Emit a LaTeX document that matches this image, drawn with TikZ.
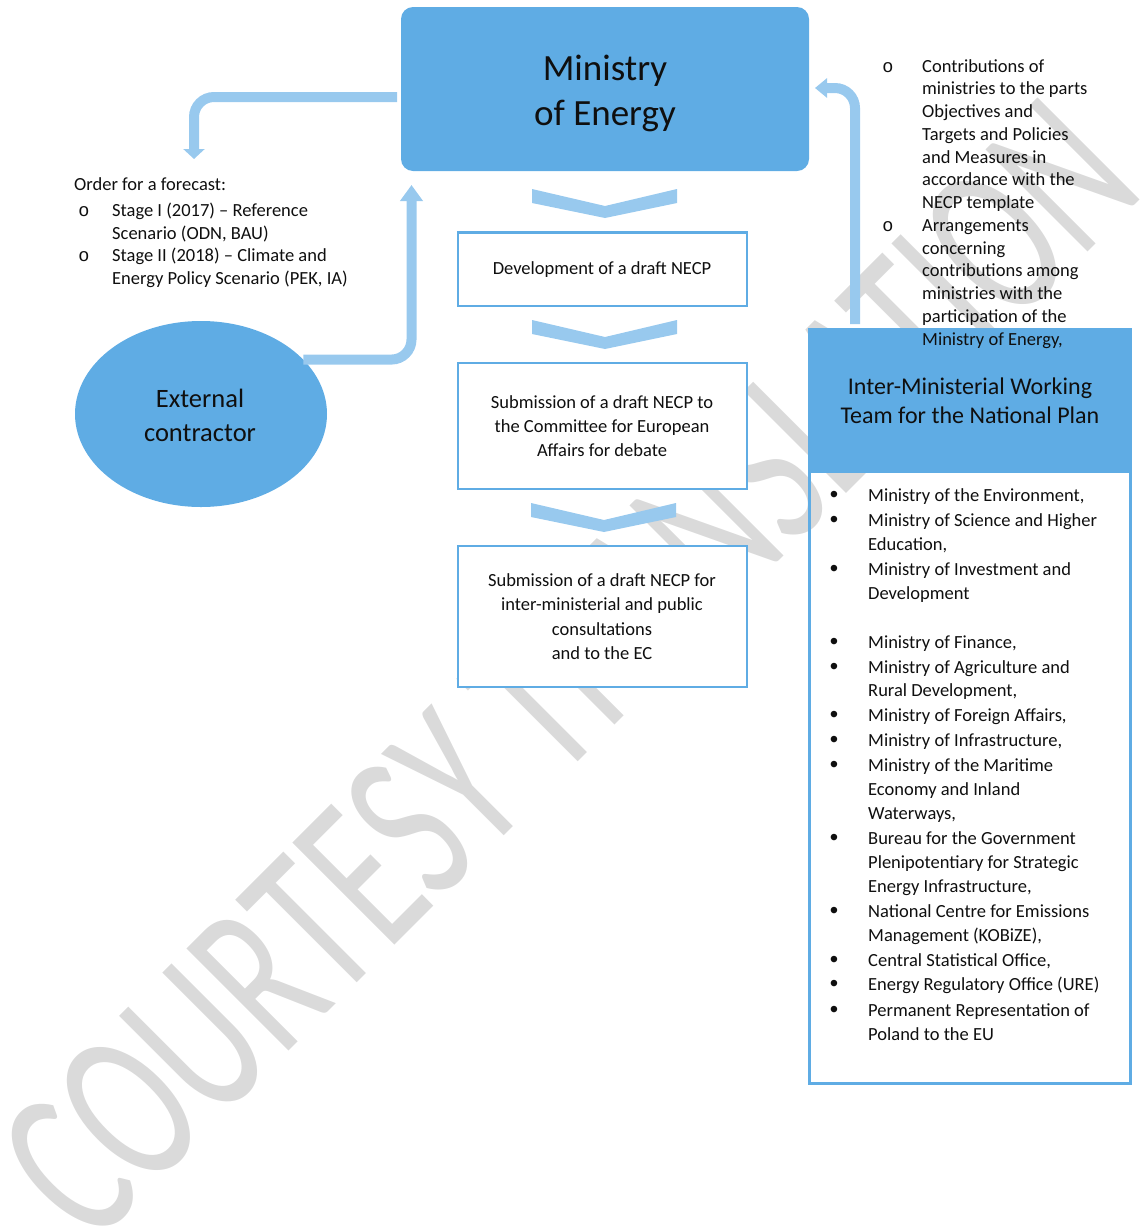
\documentclass[tikz,border=0pt]{standalone}
\usepackage{graphicx}
\usepackage{fontspec}
\setmainfont{Carlito}
\newfontfamily\monof{Liberation Mono}
\newfontfamily\bulf{Liberation Sans}
\usetikzlibrary{shapes.geometric,arrows.meta}
\definecolor{mblue}{RGB}{95,172,228}
\definecolor{lblue}{RGB}{152,201,238}
\definecolor{wmgray}{RGB}{218,218,218}
\definecolor{txtc}{RGB}{15,15,15}
\tikzset{
  txt/.style={anchor=base, inner sep=0pt, text=txtc, font=\fontsize{18.5}{22}\selectfont},
  ltxt/.style={anchor=base west, inner sep=0pt, text=txtc, font=\fontsize{18.5}{22}\selectfont},
  obul/.style={anchor=base, inner sep=0pt, text=txtc, font=\monof\fontsize{18.5}{22}\selectfont},
  dbul/.style={anchor=base, inner sep=0pt, text=txtc, font=\bulf\fontsize{24}{28}\selectfont},
  bigtxt/.style={anchor=base, inner sep=0pt, text=txtc, font=\fontsize{37}{44}\selectfont},
  midtxt/.style={anchor=base, inner sep=0pt, text=txtc, font=\fontsize{26.5}{32}\selectfont},
  hdtxt/.style={anchor=base, inner sep=0pt, text=txtc, font=\fontsize{24}{29}\selectfont},
  flowbox/.style={draw=mblue, line width=2.5pt, fill=white, minimum width=289pt, inner sep=0pt},
  fatarrow/.style={draw=lblue, line width=10pt, rounded corners=20pt},
  chev/.style={fill=lblue, draw=none},
  wm/.style={anchor=base west, rotate=45, inner sep=0pt, text=wmgray, font=\fontsize{225}{225}\selectfont},
}
\begin{document}
\begin{tikzpicture}[x=1pt,y=-1pt]
\useasboundingbox (0,0) rectangle (1145,1229);

% watermark
\begin{scope}
  \clip (0,0) rectangle (1145,1229);
  \node[wm] (wmark) at (91,1249) {\scalebox{0.653}[1]{COURTESY TRANSLATION}};
\end{scope}

% Ministry of Energy
\node[rectangle, rounded corners=12pt, fill=mblue, minimum width=408pt, minimum height=164pt, inner sep=0pt] (min) at (605,89) {};
\node[bigtxt] (minl1) at (605,80) {Ministry};
\node[bigtxt] (minl2) at (605,125) {of Energy};

% chevrons
\fill[chev] (532,189) -- (605,206) -- (677,189) -- (677,203) -- (605,218) -- (532,203) -- cycle;
\fill[chev] (532,320) -- (605,337) -- (677,320) -- (677,334) -- (605,349) -- (532,334) -- cycle;
\fill[chev] (531,503) -- (604,520) -- (676,503) -- (676,517) -- (604,532) -- (531,517) -- cycle;

% flow boxes
\node[flowbox, minimum height=73.5pt] (b1) at (602.5,269) {};
\node[txt] (b1l1) at (602,274) {Development of a draft NECP};

\node[flowbox, minimum height=126pt] (b2) at (602.5,426) {};
\node[txt] (b2l1) at (602,408) {Submission of a draft NECP to};
\node[txt] (b2l2) at (602,432) {the Committee for European};
\node[txt] (b2l3) at (602,456) {Affairs for debate};

\node[flowbox, minimum height=141pt] (b3) at (602.5,616.5) {};
\node[txt] (b3l1) at (602,586) {Submission of a draft NECP for};
\node[txt] (b3l2) at (602,610) {inter-ministerial and public};
\node[txt] (b3l3) at (602,635) {consultations};
\node[txt] (b3l4) at (602,659) {and to the EC};

% External contractor
\node[ellipse, fill=mblue, minimum width=252pt, minimum height=186pt, inner sep=0pt] (ext) at (201,414) {};
\node[midtxt] (extl1) at (200,407) {External};
\node[midtxt] (extl2) at (200,441) {contractor};

% left forecast text
\node[ltxt] (ord) at (74,190) {Order for a forecast:};
\node[obul] (ob1) at (84,216.5) {o};
\node[obul] (ob2) at (84,261.5) {o};
\node[ltxt] (st1) at (112,216.5) {Stage I (2017) – Reference};
\node[ltxt] (st2) at (112,239) {Scenario (ODN, BAU)};
\node[ltxt] (st3) at (112,261.5) {Stage II (2018) – Climate and};
\node[ltxt] (st4) at (112,284) {Energy Policy Scenario (PEK, IA)};

% Inter-ministerial team box
\fill[mblue] (808,328) rectangle (1132,473);
\node[draw=mblue, line width=3pt, minimum width=321pt, minimum height=754pt, inner sep=0pt] (team) at (970,706.5) {};
\node[hdtxt] (hd1) at (970,394) {Inter-Ministerial Working};
\node[hdtxt] (hd2) at (970,423) {Team for the National Plan};

% right-top contributions text
\node[obul] (rb1) at (888,72) {o};
\node[obul] (rb2) at (888,231.25) {o};
\foreach \t [count=\k from 0] in {Contributions of, ministries to the parts, Objectives and, Targets and Policies, and Measures in, accordance with the, NECP template, Arrangements, concerning, contributions among, ministries with the, participation of the, {Ministry of Energy,}}
  \node[ltxt] (rt\k) at (922,{72+22.75*\k}) {\t};

% team list
\foreach \y in {501,526,575,648,673,721,746,771,844,917,966,990,1016}
  \node[dbul] (lb\y) at (834,\y+1) {•};
\foreach \y/\t in {501/{Ministry of the Environment,}, 526/{Ministry of Science and Higher}, 550/{Education,}, 575/{Ministry of Investment and}, 599/{Development}, 648/{Ministry of Finance,}, 673/{Ministry of Agriculture and}, 696/{Rural Development,}, 721/{Ministry of Foreign Affairs,}, 746/{Ministry of Infrastructure,}, 771/{Ministry of the Maritime}, 795/{Economy and Inland}, 819/{Waterways,}, 844/{Bureau for the Government}, 868/{Plenipotentiary for Strategic}, 892/{Energy Infrastructure,}, 917/{National Centre for Emissions}, 941/{Management (KOBiZE),}, 966/{Central Statistical Office,}, 990/{Energy Regulatory Office (URE)}, 1016/{Permanent Representation of}, 1040/{Poland to the EU}}
  \node[ltxt] (lt\y) at (868,\y) {\t};

% arrows
\coordinate (a1s) at (397,97);
\coordinate (a1e) at (194,159);
\draw[fatarrow, -{Triangle[width=21pt,length=10pt]}] (a1s) -| (a1e);

\coordinate (a2e) at (411.5,185);
\draw[fatarrow, -{Triangle[width=22pt,length=16pt]}] (ext.28) -| (a2e);

\coordinate (a3s) at (855,324);
\coordinate (a3e) at (815,88);
\draw[fatarrow, -{Triangle[width=19pt,length=12pt]}] (a3s) |- (a3e);
\end{tikzpicture}
\end{document}
